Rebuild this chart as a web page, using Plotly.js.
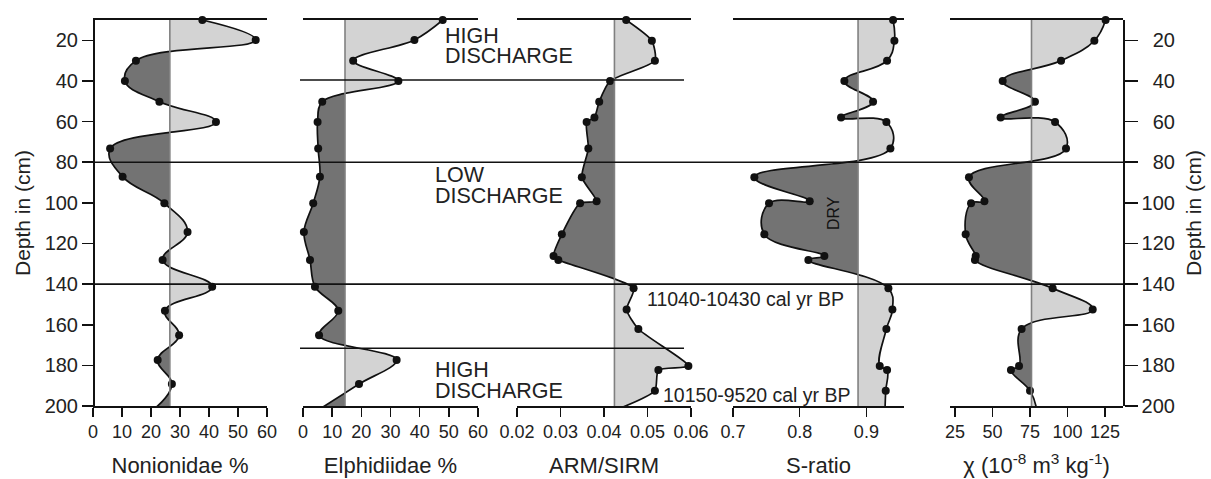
<!DOCTYPE html>
<html>
<head>
<meta charset="utf-8">
<script src="https://cdn.plot.ly/plotly-3.0.1.min.js"></script>
<style>
html, body { margin: 0; padding: 0; background: #fff; }
#chart { width: 1211px; height: 479px; }
</style>
</head>
<body>
<div id="chart"></div>
<script>
// ---------------- DATA ----------------
const depthForam   = [10, 19.8, 30, 40, 50.2, 60.2, 73.3, 87.1, 100.2, 114.3, 128.1, 141.3, 153.1, 165.2, 177.3, 189.2, 201];
const nonionidae   = [37.7, 56.1, 14.8, 11.0, 22.9, 42.4, 5.9, 10.2, 24.6, 32.6, 24.0, 41.1, 24.8, 29.7, 22.3, 27.2, 21.5];
const elphidiidae  = [47.9, 38.2, 17.2, 32.7, 6.6, 5.0, 5.2, 5.8, 3.5, 0.3, 2.4, 4.1, 12.1, 5.5, 32.1, 19.2, 6.3];

const depthMag     = [10, 20.2, 30, 40, 50.2, 58, 60.2, 73.3, 87.4, 99.2, 100.2, 115.5, 126.2, 128.1, 142.1, 152.5, 162.1, 180.3, 182.3, 192.5, 201];
const armSirm      = [0.0451, 0.0510, 0.0517, 0.0414, 0.0389, 0.0378, 0.0360, 0.0364, 0.0349, 0.0383, 0.0345, 0.0303, 0.0284, 0.0295, 0.0468, 0.0452, 0.0479, 0.0594, 0.0525, 0.0517, 0.0438];
const sRatio       = [0.940, 0.942, 0.931, 0.867, 0.910, 0.862, 0.930, 0.936, 0.732, 0.815, 0.754, 0.747, 0.837, 0.813, 0.933, 0.939, 0.930, 0.920, 0.931, 0.929, 0.928];
const chi          = [125.4, 117.9, 95.7, 56.8, 78.3, 55.4, 91.7, 99.0, 34.3, 44.6, 35.7, 32.1, 38.8, 38.3, 90.1, 116.8, 69.4, 67.7, 62.3, 75.0, 79.3];

// reference (mean) lines of each panel
const thrNon = 26.5, thrElph = 14.4, thrArm = 0.0424, thrS = 0.8875, thrChi = 76;

// zone boundaries (depth, cm)
const fullBounds = [80, 140];
const midBounds  = [39.5, 171.6];

// tick labels
const depthTicks = [20, 40, 60, 80, 100, 120, 140, 160, 180, 200];
const pctTicks   = [0, 10, 20, 30, 40, 50, 60];
const armTicks   = [0.02, 0.03, 0.04, 0.05, 0.06];
const sTicks     = [0.7, 0.8, 0.9];
const chiTicks   = [25, 50, 75, 100, 125];

// ---------------- LAYOUT HELPERS ----------------
const W = 1211, H = 479;
const fx = p => p / W;
const fy = p => 1 - p / H;
const yDomain = [fy(406), fy(20)];
const FONT = 'Liberation Sans, Arial, sans-serif';
const TICKFONT = 'Liberation Sans Narrow, Liberation Sans, Arial, sans-serif';
const LIGHT = '#d3d3d3', DARK = '#737373', INK = '#111111';

const panels = [
  {vals: nonionidae,  depth: depthForam, thr: thrNon,  a: 93,  b: 267,  range: [0, 60],        ticks: pctTicks, fmt: 'd',   title: 'Nonionidae %', smooth: 1.2},
  {vals: elphidiidae, depth: depthForam, thr: thrElph, a: 303, b: 478,  range: [0, 60],        ticks: pctTicks, fmt: 'd',   title: 'Elphidiidae %', smooth: 1},
  {vals: armSirm,     depth: depthMag,   thr: thrArm,  a: 517, b: 691,  range: [0.02, 0.06],   ticks: armTicks, fmt: '.2f', title: 'ARM/SIRM', smooth: 0.6},
  {vals: sRatio,      depth: depthMag,   thr: thrS,    a: 733, b: 904,  range: [0.7, 0.9564],  ticks: sTicks,   fmt: '.1f', title: 'S-ratio', smooth: 1.2},
  {vals: chi,         depth: depthMag,   thr: thrChi,  a: 950, b: 1123, range: [21.67, 137.0], ticks: chiTicks, fmt: 'd',   title: '\u03C7 (10<sup>-8</sup> m<sup>3</sup> kg<sup>-1</sup>)', smooth: 1.2}
];

const traces = [];
const layout = {
  width: W, height: H,
  margin: {l: 0, r: 0, t: 0, b: 0, pad: 0},
  paper_bgcolor: '#ffffff',
  plot_bgcolor: 'rgba(0,0,0,0)',
  showlegend: false,
  hovermode: false,
  font: {family: FONT, color: '#222222'},
  shapes: [],
  annotations: []
};

const axName = n => (n === 1 ? 'xaxis' : 'xaxis' + n);
const axRef  = n => (n === 1 ? 'x' : 'x' + n);

panels.forEach((p, i) => {
  const k = (p.b - p.a) / (p.range[1] - p.range[0]);
  const tpx = p.a + (p.thr - p.range[0]) * k;
  const ext = 12;
  const nL = 3 * i + 1, nR = 3 * i + 2, nM = 3 * i + 3;

  // clipping sub-plots: left of the reference line (dark) and right of it (light)
  layout[axName(nL)] = {domain: [fx(p.a - ext), fx(tpx)], range: [p.range[0] - ext / k, p.thr], visible: false, anchor: 'y', fixedrange: true};
  layout[axName(nR)] = {domain: [fx(tpx), fx(p.b + ext)], range: [p.thr, p.range[1] + ext / k], visible: false, anchor: 'y', fixedrange: true};

  const dTop = p.depth[0], dBot = p.depth[p.depth.length - 1];
  const mX = [], mY = [];
  p.depth.forEach((d, j) => { if (d <= 200) { mX.push(p.vals[j]); mY.push(d); } });

  [[nL, DARK], [nR, LIGHT]].forEach(([n, col]) => {
    traces.push({x: [p.thr, p.thr], y: [dTop, dBot], xaxis: axRef(n), yaxis: 'y', mode: 'lines',
                 line: {width: 0, color: 'rgba(0,0,0,0)'}, hoverinfo: 'skip'});
    traces.push({x: p.vals, y: p.depth, xaxis: axRef(n), yaxis: 'y', mode: 'lines',
                 line: {color: INK, width: 1.7, shape: 'spline', smoothing: p.smooth},
                 fill: 'tonextx', fillcolor: col, hoverinfo: 'skip'});
    traces.push({x: mX, y: mY, xaxis: axRef(n), yaxis: 'y', mode: 'markers', cliponaxis: false,
                 marker: {size: 8, color: INK}, hoverinfo: 'skip'});
  });

  // main axis of the panel
  layout[axName(nM)] = {
    domain: [fx(p.a), fx(p.b)], range: p.range, anchor: 'y',
    showline: true, mirror: true, linecolor: INK, linewidth: 1.6,
    ticks: 'outside', ticklen: 9, tickwidth: 1.6, tickcolor: INK,
    tickvals: p.ticks, tickformat: p.fmt,
    tickfont: {family: TICKFONT, size: 18, color: '#222'},
    showgrid: false, zeroline: false, fixedrange: true,
    title: {text: p.title, font: {family: FONT, size: 22, color: '#222'}, standoff: 16}
  };
  traces.push({x: [null], y: [null], xaxis: axRef(nM), yaxis: 'y', mode: 'markers', hoverinfo: 'skip'});

  // reference line
  layout.shapes.push({type: 'line', xref: axRef(nM), yref: 'y', x0: p.thr, x1: p.thr, y0: 10, y1: 200,
                      line: {color: '#808080', width: 1.6}, layer: 'above'});
});

traces.push({x: [null], y: [null], xaxis: 'x15', yaxis: 'y2', mode: 'markers', hoverinfo: 'skip'});

const yCommon = {
  domain: yDomain, range: [200, 10], autorange: false,
  showline: true, linecolor: INK, linewidth: 1.6,
  ticks: 'outside', ticklen: 11, tickwidth: 1.6, tickcolor: INK,
  tickvals: depthTicks, tickfont: {family: FONT, size: 20, color: '#222'},
  showgrid: false, zeroline: false, fixedrange: true,
  title: {text: 'Depth in (cm)', font: {family: FONT, size: 21, color: '#222'}, standoff: 6}
};
// right-hand labels are right-aligned in the reference: pad short labels with no-break spaces
const rightTickText = depthTicks.map(v => (String(v).length < 3 ? '\u00A0\u00A0' : '') + v);
layout.yaxis  = Object.assign({}, yCommon, {anchor: 'free', position: fx(93), side: 'left'});
layout.yaxis2 = Object.assign({}, yCommon, {anchor: 'free', position: fx(1123), side: 'right', overlaying: 'y',
  tickmode: 'array', ticklen: 13, ticktext: rightTickText,
  title: {text: 'Depth in (cm)', font: {family: FONT, size: 21, color: '#222'}, standoff: 12}});

// zone boundary lines
fullBounds.forEach(d => layout.shapes.push({type: 'line', xref: 'paper', yref: 'y', x0: fx(93), x1: fx(1127), y0: d, y1: d,
  line: {color: INK, width: 1.6}, layer: 'above'}));
midBounds.forEach(d => layout.shapes.push({type: 'line', xref: 'paper', yref: 'y', x0: fx(300), x1: fx(684), y0: d, y1: d,
  line: {color: INK, width: 1.6}, layer: 'above'}));

// text labels
const ann = (text, xpx, ypx, size, extra) => Object.assign({
  text: text, xref: 'paper', yref: 'paper', x: fx(xpx), y: fy(ypx), xanchor: 'left', yanchor: 'middle',
  showarrow: false, font: {family: FONT, size: size, color: '#222'}
}, extra || {});
layout.annotations.push(
  ann('HIGH', 443, 36, 21.5), ann('DISCHARGE', 443, 56, 21.5),
  ann('LOW', 433, 175, 21.5), ann('DISCHARGE', 433, 196, 21.5),
  ann('HIGH', 433, 370, 21.5), ann('DISCHARGE', 433, 391, 21.5),
  ann('11040-10430 cal yr BP', 645, 299, 19.5),
  ann('10150-9520 cal yr BP', 661, 395, 19.5),
  ann('DRY', 833.5, 213.5, 16, {xanchor: 'center', textangle: -90, font: {family: FONT, size: 16, color: '#111'}})
);

Plotly.newPlot('chart', traces, layout, {staticPlot: true, displayModeBar: false});
</script>
</body>
</html>
